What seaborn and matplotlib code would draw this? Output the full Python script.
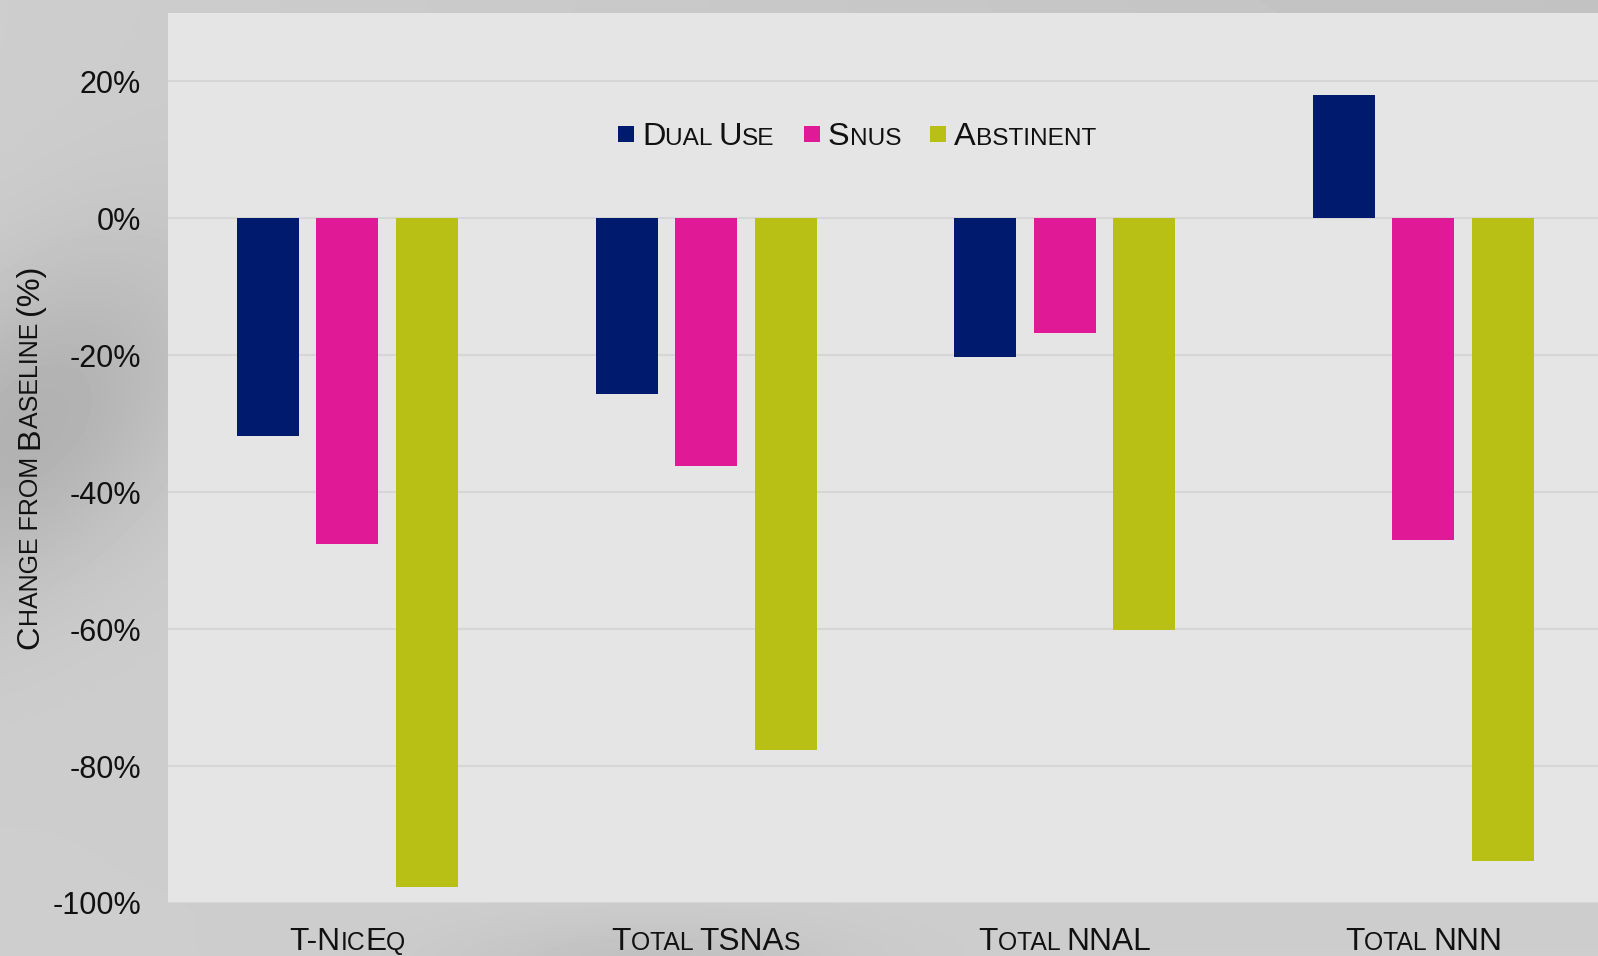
import numpy as np
import pandas as pd
import matplotlib
matplotlib.use("Agg")
import matplotlib.pyplot as plt
from matplotlib.patches import Rectangle
from matplotlib.transforms import offset_copy
import seaborn as sns

# ---- data -------------------------------------------------------------
categories = ["T-NicEq", "Total TSNAs", "Total NNAL", "Total NNN"]
groups = ["Dual Use", "Snus", "Abstinent"]
dual_use = [-31.8, -25.7, -20.2, 18.0]
snus = [-47.6, -36.2, -16.8, -47.0]
abstinent = [-97.6, -77.7, -60.1, -93.8]
y_ticks = [20, 0, -20, -40, -60, -80, -100]
y_label = "Change from Baseline (%)"

colors = ["#001a6e", "#e01996", "#b8c016"]

df = pd.DataFrame({
    "category": categories * 3,
    "group": [g for g in groups for _ in categories],
    "change": dual_use + snus + abstinent,
})

# ---- style ------------------------------------------------------------
sns.set_theme(style="white")
plt.rcParams["font.family"] = ["Liberation Sans", "DejaVu Sans"]
FONT = ["Liberation Sans"]

W, H = 1598, 956
fig = plt.figure(figsize=(W / 100, H / 100), dpi=100)

# soft grey backdrop
bg = fig.add_axes([0, 0, 1, 1], zorder=-10)
yy, xx = np.mgrid[0:H, 0:W]
field = 0.805 - 0.045 * (xx / W) * (1 - yy / H)
field -= 0.11 * np.exp(-(((xx - 30) / 170.0) ** 2 + ((yy - 440 + 0.45 * xx) / 160.0) ** 2))
field -= 0.05 * np.exp(-(((xx - 650) / 200.0) ** 2 + ((yy - 960) / 40.0) ** 2))
bg.imshow(np.clip(field, 0, 1), cmap="gray", vmin=0, vmax=1, aspect="auto",
          extent=[0, W, H, 0], interpolation="bilinear")
bg.set_axis_off()

# plot area: spans -0.5..3.5 on the category axis
left_px, top_px, bottom_px = 168, 13, 903
cat_px = 358.7
ax = fig.add_axes([left_px / W, (H - bottom_px) / H, 4 * cat_px / W, (bottom_px - top_px) / H])
ax.set_facecolor("#e5e5e5")

sns.barplot(data=df, x="category", y="change", hue="group", hue_order=groups,
            order=categories, palette=colors, saturation=1, width=0.665, gap=0.22,
            errorbar=None, legend=False, linewidth=0, ax=ax)

ax.set_xlim(-0.5, 3.5)
ax.set_ylim(-100, 30)
ax.set_yticks(y_ticks)
ax.set_yticklabels([f"{t}%" for t in y_ticks], fontsize=22, color="#111111", family=FONT)
ax.tick_params(axis="y", length=0, pad=19.5)
ax.set_xticks(range(len(categories)))
ax.set_xticklabels([])
ax.tick_params(axis="x", length=0)
ax.set_xlabel("")
ax.set_ylabel("")
ax.yaxis.grid(True, color="#d6d6d6", linewidth=1.5)
ax.set_axisbelow(True)
for sp in ax.spines.values():
    sp.set_visible(False)

# ---- small-caps text helper -------------------------------------------
renderer = fig.canvas.get_renderer()


def run_width(s, size):
    t = fig.text(0, 0, "|" + s + "|", fontsize=size, family=FONT)
    w1 = t.get_window_extent(renderer).width
    t.set_text("||")
    w2 = t.get_window_extent(renderer).width
    t.remove()
    return w1 - w2


def small_caps(x, y, s, transform, size, ratio=0.77, ha="center", rotation=0,
               color="#111111"):
    runs = []
    for ch in s:
        big = not (ch.islower() or ch == " ")
        txt = ch.upper()
        if runs and runs[-1][1] == big:
            runs[-1][0] += txt
        else:
            runs.append([txt, big])
    sizes = [size if big else size * ratio for _, big in runs]
    widths = [run_width(r[0], sz) for r, sz in zip(runs, sizes)]
    total = sum(widths)
    pos = {"center": -total / 2, "right": -total, "left": 0}[ha]
    for (txt, _), sz, w in zip(runs, sizes, widths):
        if rotation == 90:
            tr = offset_copy(transform, fig=fig, x=0, y=pos, units="dots")
        else:
            tr = offset_copy(transform, fig=fig, x=pos, y=0, units="dots")
        fig.text(x, y, txt, transform=tr, fontsize=sz, family=FONT, color=color,
                 ha="left", va="baseline", rotation=rotation, rotation_mode="anchor")
        pos += w


# category labels under the plot area
for i, cat in enumerate(categories):
    small_caps(i, -47 / (bottom_px - top_px), cat, ax.get_xaxis_transform(),
               size=22.8, ratio=0.78)

# y-axis title
small_caps(38 / W, 1 - 457 / H, y_label, fig.transFigure, size=23.4, ratio=0.77,
           rotation=90)

# legend row
legend_x = [618, 804, 930]
for gx, name, col in zip(legend_x, groups, colors):
    fig.patches.append(Rectangle((gx / W, 1 - 142 / H), 16 / W, 16 / H,
                                 transform=fig.transFigure, facecolor=col,
                                 edgecolor="none", zorder=5))
    small_caps((gx + 24) / W, 1 - 144.8 / H, name, fig.transFigure, size=23.4,
               ratio=0.75, ha="left")

fig.savefig("out.png", dpi=100)
